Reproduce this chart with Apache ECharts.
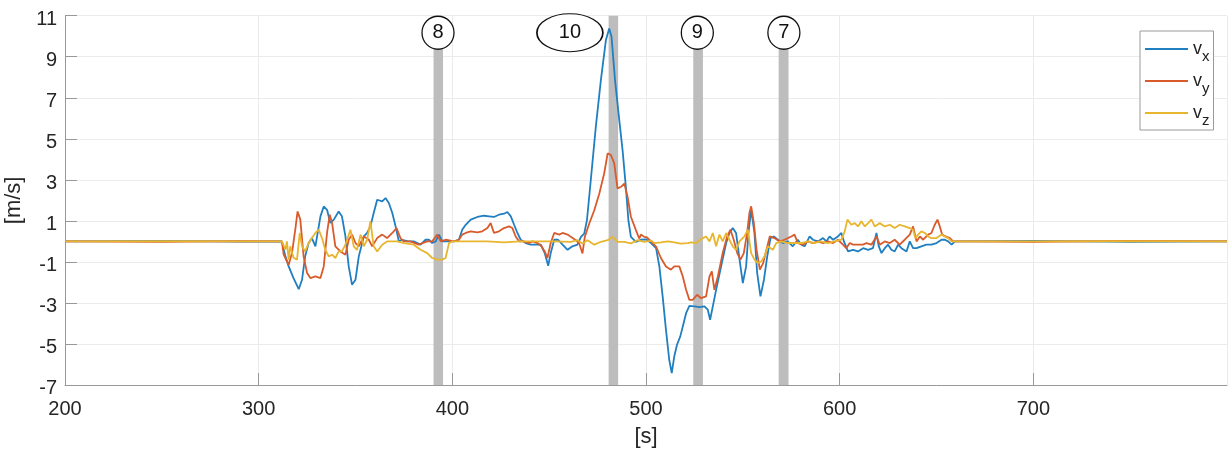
<!DOCTYPE html>
<html>
<head>
<meta charset="utf-8">
<script src="https://cdn.jsdelivr.net/npm/echarts@6/dist/echarts.min.js"></script>
<style>
  html, body { margin: 0; padding: 0; background: #fff; }
  #chart { width: 1229px; height: 454px; }
</style>
</head>
<body>
<div id="chart"></div>
<script>
// velocity components: [time s, value m/s]
var vx = [
  [200, 0], [250, 0.02], [290, -0.01], [312, 0],
  [313.8, -0.73], [315.5, -1.22], [318, -1.79], [320.7, -2.33], [322.4, -1.87], [324, -0.73],
  [325.8, -0.08], [327.5, 0.16], [329.3, -0.24], [331.9, 1.22], [333.6, 1.7], [335.3, 1.54],
  [337, 0.9], [338.8, 1.06], [341.3, 1.46], [343, 1.22], [344.8, 0.24], [346.5, -1.22],
  [348.2, -2.11], [350, -1.87], [351.7, -0.73], [354.3, 0.24], [356, 0.41], [357.7, 0.73],
  [359.4, 1.38], [361.2, 2.03], [363.8, 1.95], [365.5, 2.11], [367.2, 1.87], [369, 1.38],
  [370.7, 0.73], [372.4, 0], [374.1, 0.08], [377, 0], [380, 0], [383.6, -0.16], [386.2, 0.08],
  [387.9, 0.08], [389.6, -0.08], [391.4, 0], [393.1, 0.33], [394.8, 0], [397.4, 0], [400.8, 0],
  [403.4, 0.08], [405.1, 0.57], [406.9, 0.81], [409.5, 1.06], [412.9, 1.19], [416.4, 1.25],
  [419, 1.22], [421.5, 1.19], [424.1, 1.3], [426.7, 1.35], [428.4, 1.43], [430.2, 1.22],
  [431.9, 0.81], [433.6, 0.41], [435.3, 0.08], [437.9, -0.08], [440.5, -0.16], [443.1, -0.16],
  [445.7, -0.16], [447.7, -0.57], [449.5, -1.19], [450.8, -0.57], [452.6, 0.08], [454.6, 0.08],
  [456.9, -0.16], [459.5, -0.41], [462, -0.24], [464.6, -0.16], [466.4, 0.22], [468.1, 0.38],
  [469.5, 1.03], [471.5, 2.99], [474.1, 5.59], [476.7, 7.86], [479.3, 9.81], [481, 10.38],
  [482.2, 9.98], [484, 7.86], [486.2, 5.91], [487.9, 4.45], [489.6, 2.66], [490.9, 1.03],
  [492.2, 0.22], [494.8, -0.02], [497.4, 0.08], [500, 0.1], [502.6, -0.08], [505.2, -0.33],
  [506.9, -1.22], [508.6, -2.68], [510.3, -4.3], [512, -5.77], [513.3, -6.42], [514.6, -5.61],
  [516, -5.04], [517.7, -4.63], [519, -4.15], [520.7, -3.5], [522.4, -3.14], [525, -3.17],
  [527.6, -3.2], [530.2, -3.17], [531.9, -3.33], [533.1, -3.82], [534.5, -3.17], [536.2, -2.36],
  [538.8, -1.22], [541.4, -0.08], [543.1, 0.41], [544.8, 0.65], [546.5, 0.41], [548.3, -0.89],
  [550, -2.03], [551.7, -1.22], [552.9, 0.41], [554.3, 1.54], [556, 0.41], [557.4, -1.54],
  [559.1, -2.68], [560.9, -1.87], [562.6, -0.73], [564.3, 0.16], [566, 0.24], [568.1, 0.08],
  [570.7, -0.08], [573.2, 0], [575.8, -0.24], [578.4, 0.08], [580.2, -0.16], [581.9, -0.24],
  [584.5, 0.24], [586.2, 0.08], [588.8, 0], [591.4, 0.16], [593.1, 0], [594.8, 0.24],
  [596.6, 0.08], [599.1, 0.24], [600.9, 0.41], [602.2, 0], [604.3, -0.49], [606.9, -0.41],
  [609.5, -0.49], [612.1, -0.33], [614.7, -0.41], [617.2, -0.33], [619, 0.41], [620.2, -0.24],
  [621.6, -0.57], [623.3, -0.33], [625, -0.16], [626.7, -0.41], [628.4, -0.49], [630.2, -0.16],
  [631.9, -0.33], [634.5, -0.49], [636.2, 0], [637.9, -0.33], [639.7, -0.33], [642.2, -0.24],
  [644.8, -0.16], [647.4, -0.16], [650, -0.08], [652.6, 0.08], [654.3, 0.08], [656, 0],
  [657.8, -0.16], [659.5, 0], [661, 0], [700, 0.02], [750, -0.02], [800, 0]
];

var vy = [
  [200, 0], [250, -0.02], [290, 0.01], [312, 0],
  [312.9, -0.65], [315.5, -1.14], [317.2, -0.57], [318.9, 0.57], [320.1, 1.46], [321.5, 1.06],
  [323.2, -0.73], [325, -1.54], [326.7, -1.79], [329.3, -1.71], [331.9, -1.79], [333.6, -1.22],
  [335.3, 0.41], [336.7, 1.3], [337.9, 0.9], [339.6, -0.24], [342.2, -0.49], [344.8, -0.65],
  [346.5, 0.08], [348.2, 0.33], [350, -0.08], [351.7, -0.24], [354.3, 0.24], [356.9, 0.08],
  [358.6, -0.24], [361.2, 0.16], [363.8, 0.33], [366.3, 0.16], [369, 0.41], [371.2, 0.65],
  [373.2, 0.16], [374.9, 0], [378.3, 0], [382.6, -0.16], [387, 0], [389.6, 0], [392.2, 0.33],
  [394, 0], [396.5, 0.08], [400.8, 0], [403.4, 0.08], [405.1, 0.33], [406.9, 0.41], [409.5, 0.49],
  [412.9, 0.44], [415.5, 0.49], [418.1, 0.65], [419.8, 0.89], [421.5, 0.41], [424.1, 0.49],
  [426.7, 0.65], [429.3, 0.73], [431, 0.65], [432.7, 0.24], [434.5, 0], [437, 0], [439.6, -0.08],
  [441.4, 0], [444, -0.08], [446, -0.24], [447.7, -0.49], [449.1, -0.81], [450.8, -0.08],
  [452.6, 0.41], [455.2, 0.33], [456.9, 0.41], [459.5, 0.33], [461.2, 0.22], [463.8, 0.06],
  [465.5, -0.1], [467.2, -0.59], [468.4, 0.22], [470.7, 0.87], [473.3, 1.52], [475.9, 2.33],
  [478.4, 3.31], [480.2, 4.29], [481.9, 4.21], [483.6, 3.8], [485.3, 2.58], [487.1, 2.66],
  [488.8, 2.82], [490.5, 2.17], [492.2, 1.2], [494.8, 0.55], [496.5, 0.14], [497.4, 0.33],
  [499.1, 0.22], [500.5, 0.2], [502.6, 0], [505.2, -0.25], [507.7, -0.81], [510.3, -1.22],
  [512.9, -1.38], [514.6, -1.22], [517.2, -1.22], [519, -1.71], [520.7, -2.36], [522.4, -2.85],
  [524.1, -2.85], [526.4, -2.6], [528.4, -2.77], [531, -2.68], [532.8, -1.71], [534, -1.46],
  [535.3, -2.36], [537.1, -1.71], [539.6, -0.57], [541.9, 0.24], [543.6, 0.57], [545.3, 0.08],
  [547.1, -0.57], [548.8, -0.89], [550.5, -0.57], [552.2, 0.41], [553.4, 1.38], [554.3, 1.71],
  [555.7, 0.89], [557.1, -0.41], [558.8, -1.38], [560.5, -1.06], [562.2, -0.41], [563.9, 0.24],
  [566.3, 0.16], [569, 0], [571.5, 0.08], [575, 0.24], [576.7, 0.33], [578.4, -0.08], [581, -0.16],
  [583.6, 0], [586.2, -0.08], [588.8, 0], [591.4, -0.08], [594, 0], [596.6, -0.08], [599.1, 0.08],
  [601.7, -0.16], [603.4, -0.33], [605.2, -0.08], [606.9, -0.16], [609.5, -0.16], [612.1, -0.16],
  [613.8, -0.08], [616.4, -0.16], [619, 0.24], [620.7, -0.16], [623.3, 0], [625.9, -0.08],
  [628.4, 0.08], [631, -0.16], [633.6, 0.08], [636.2, 0.33], [637.9, 0.73], [639.7, 0],
  [641.4, 0.24], [643.1, 0.08], [645.7, 0.33], [647.4, 0.41], [649.1, 0.81], [650.5, 1.06],
  [651.7, 0.73], [652.9, 0.33], [654.7, 0.24], [656.9, 0.16], [658.6, 0], [661, 0],
  [700, -0.02], [750, 0.02], [800, 0]
];

var vz = [
  [200, 0], [250, 0.01], [290, 0], [312, 0],
  [312.9, 0.08], [313.8, -0.4], [314.6, 0], [315.5, -0.9], [316.3, -0.24], [318, -0.8],
  [319.8, -0.89], [321.2, 0.41], [322.4, -0.24], [324, -0.49], [325.8, -0.08], [327.5, 0.16],
  [329.3, 0.41], [331, 0.57], [332.7, 0.16], [334.4, -0.41], [336.2, -0.73], [337.9, -0.65],
  [339.6, -0.81], [341.3, -0.49], [343, -0.49], [344.8, -0.16], [347.4, 0.57], [349.1, -0.24],
  [350.8, -0.41], [352.6, 0.33], [354.3, -0.24], [356, 0.08], [357.7, 0.98], [359.4, -0.24],
  [361.2, -0.49], [363.8, -0.16], [366.3, 0], [369, 0], [371.5, 0], [375, -0.08], [380.1, -0.16],
  [383.6, -0.41], [387, -0.57], [389.6, -0.81], [392.2, -0.89], [394.8, -0.89], [396.5, -0.81],
  [398.3, -0.08], [400, 0], [410, 0], [418, 0], [426.7, -0.05], [435, 0], [444, 0], [452, 0],
  [461.2, -0.02], [464.6, 0.06], [467.2, -0.1], [469.8, 0.06], [473.3, -0.16], [476.7, -0.02],
  [480.2, 0.06], [482.8, 0.22], [485.3, -0.02], [488.8, -0.02], [492.2, -0.1], [495.7, 0.06],
  [499.1, -0.02], [502.6, 0.04], [504.3, -0.08], [507.7, -0.05], [511.2, 0], [514.6, -0.05],
  [518.1, -0.11], [521.5, -0.08], [523.3, -0.05], [525.9, -0.08], [528.4, 0.11], [531, 0.24],
  [532.8, 0], [534.5, 0.41], [536.2, -0.24], [537.9, 0.33], [539.6, 0], [541.4, 0.41],
  [543.1, 0.08], [544.8, -0.24], [546.5, -0.41], [548.3, 0], [550.8, 0.24], [552.6, 0.57],
  [554.3, -0.57], [556, -0.89], [557.7, -1.06], [559.5, -0.98], [561.2, -0.73], [562.9, -0.24],
  [565.5, -0.41], [567.2, -0.08], [569.8, 0], [573.2, -0.08], [577.6, -0.08], [580.2, -0.08],
  [583.6, 0], [586.9, -0.08], [590, 0], [594, -0.08], [597.4, 0], [600.9, 0.08], [602.6, 0.49],
  [604, 1.06], [606, 0.81], [607.8, 0.89], [609.5, 0.73], [611.2, 0.98], [613, 0.73],
  [614.7, 0.89], [616.4, 1.06], [618.1, 0.73], [620.7, 0.89], [623.3, 0.73], [625.9, 0.81],
  [628.4, 0.65], [631, 0.81], [633.6, 0.73], [636.2, 0.65], [637.9, 0.57], [639.1, 0.16],
  [640.5, 0.33], [642.2, 0.49], [644, 0.41], [645.7, 0.24], [647.4, 0.16], [650, 0.16],
  [652.6, 0.33], [654.3, 0.24], [656, 0.16], [657.8, 0], [661, 0], [700, 0], [750, 0.01], [800, 0]
];

var seriesNames = ['vx', 'vy', 'vz'];
var seriesSubs = ['x', 'y', 'z'];
var colors = ['#1f7fc1', '#d95a2b', '#e8b52e'];

// grey event bands (start, end, top) and their numbered markers
var bandStart = [390.3, 480.7, 524.4, 568.5];
var bandEnd = [395.2, 485.6, 529.4, 573.6];
var bandTop = [9.45, 11, 9.45, 9.45];
var markerX = [392.6, 460.7, 526.5, 571.2];
var markerY = [10.17, 10.17, 10.17, 10.17];
var markerText = ['8', '10', '9', '7'];

var font = "'Liberation Sans', Arial, sans-serif";

var bands = bandStart.map(function (s, i) {
  return [{ xAxis: s, yAxis: -7 }, { xAxis: bandEnd[i], yAxis: bandTop[i] }];
});

var series = [{
  name: 'bands',
  type: 'line',
  data: [],
  z: 1,
  silent: true,
  markArea: {
    silent: true,
    itemStyle: { color: '#bdbdbd' },
    data: bands
  }
}];

[vx, vy, vz].forEach(function (d, i) {
  series.push({
    name: seriesNames[i],
    type: 'line',
    data: d,
    z: 3 + i,
    symbol: 'none',
    color: colors[i],
    lineStyle: { width: 1.8, color: colors[i] }
  });
});

series.push({
  name: 'markers',
  type: 'scatter',
  z: 10,
  clip: false,
  silent: true,
  data: markerX.map(function (x, i) { return [x, markerY[i], markerText[i]]; }),
  symbol: 'circle',
  symbolSize: function (v) { return v[2] === '10' ? [66, 38] : [32, 33]; },
  itemStyle: { color: '#fff', borderColor: '#111', borderWidth: 1.3, opacity: 1 },
  label: {
    show: true,
    position: 'inside',
    formatter: function (p) { return p.data[2]; },
    color: '#111',
    fontFamily: font,
    fontSize: 20
  }
});

var chart = echarts.init(document.getElementById('chart'));
chart.setOption({
  animation: false,
  backgroundColor: '#fff',
  grid: { left: 65, right: 2, top: 15.7, bottom: 69, containLabel: false, outerBoundsMode: 'none' },
  legend: {
    data: seriesNames.map(function (n) { return { name: n, icon: 'rect' }; }),
    orient: 'vertical',
    left: 1140,
    top: 31,
    backgroundColor: '#fff',
    borderColor: '#9a9a9a',
    borderWidth: 1,
    borderRadius: 0,
    padding: [9, 4, 2, 5],
    itemWidth: 43,
    itemHeight: 2,
    itemGap: 8,
    selectedMode: false,
    formatter: function (name) {
      return '{v|v}{s|' + seriesSubs[seriesNames.indexOf(name)] + '}';
    },
    textStyle: {
      rich: {
        v: { fontSize: 18, fontFamily: font, color: '#222', lineHeight: 30, verticalAlign: 'middle' },
        s: { fontSize: 15, fontFamily: font, color: '#222', lineHeight: 6, verticalAlign: 'bottom' }
      }
    }
  },
  xAxis: {
    type: 'value',
    min: 200,
    max: 800,
    interval: 100,
    name: '[s]',
    nameLocation: 'middle',
    nameGap: 41,
    nameTextStyle: { fontSize: 22, color: '#262626', fontFamily: font },
    axisLine: { show: true, onZero: false, lineStyle: { color: '#999', width: 1 } },
    axisTick: { show: true, inside: true, length: 12, lineStyle: { color: '#999' } },
    axisLabel: { fontSize: 20, color: '#262626', fontFamily: font, margin: 14, showMaxLabel: false },
    splitLine: { show: true, lineStyle: { color: '#ebebeb', width: 1 } }
  },
  yAxis: {
    type: 'value',
    min: -7,
    max: 11,
    interval: 2,
    name: '[m/s]',
    nameLocation: 'middle',
    nameGap: 35,
    nameRotate: 90,
    nameTextStyle: { fontSize: 22, color: '#262626', fontFamily: font },
    axisLine: { show: true, lineStyle: { color: '#999', width: 1 } },
    axisTick: { show: true, inside: true, length: 12, lineStyle: { color: '#999' } },
    axisLabel: { fontSize: 20, color: '#262626', fontFamily: font, margin: 8, verticalAlign: 'top', lineHeight: 7 },
    splitLine: { show: true, lineStyle: { color: '#ebebeb', width: 1 } }
  },
  series: series
});
</script>
</body>
</html>
